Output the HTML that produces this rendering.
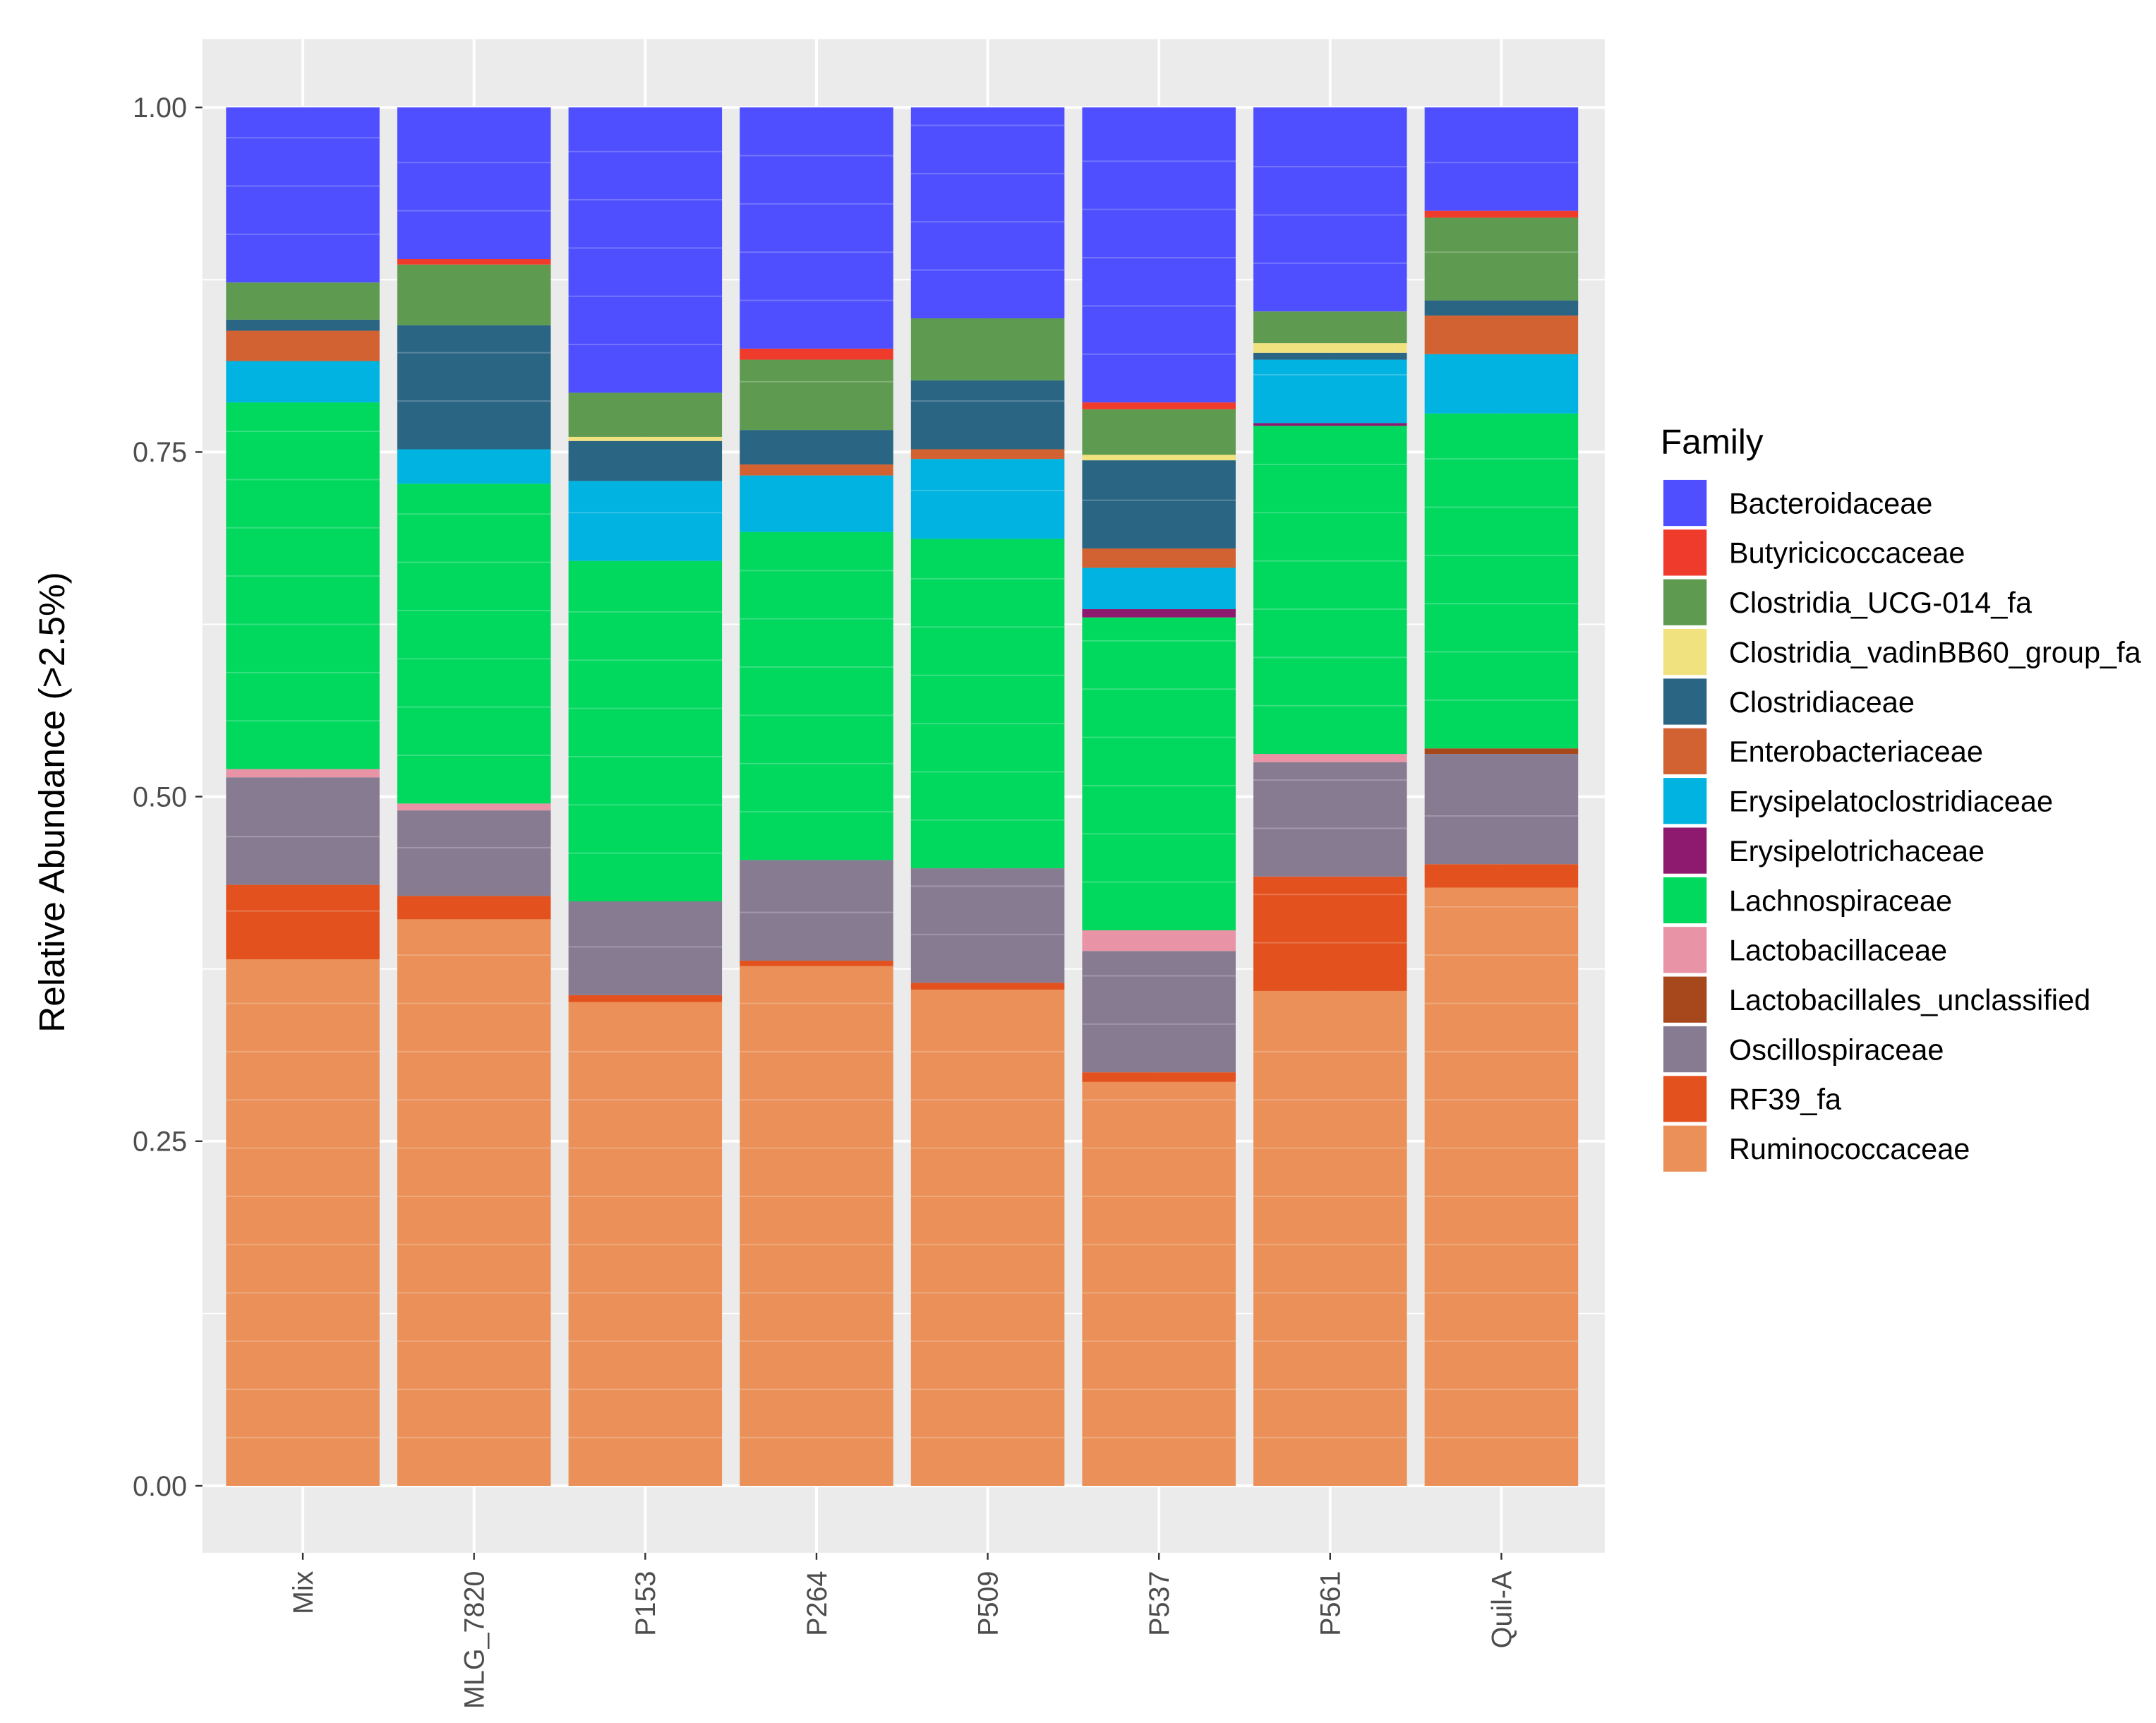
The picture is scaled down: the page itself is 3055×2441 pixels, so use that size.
<!DOCTYPE html>
<html><head><meta charset="utf-8"><style>
html,body{margin:0;padding:0;background:#fff}
svg{display:block}
text{font-family:"Liberation Sans",sans-serif}
</style></head><body>
<svg id="chart" width="3055" height="2441" viewBox="0 0 1545 1235" preserveAspectRatio="none" xmlns="http://www.w3.org/2000/svg">
<rect x="145" y="28" width="1005" height="1085" fill="#ebebeb"/>
<g id="grid"></g><g id="bars"></g><g id="axes"></g><g id="legend"></g>
<text transform="translate(46,575) rotate(-90)" text-anchor="middle" font-size="26" fill="#000">Relative Abundance (&gt;2.5%)</text>
<text x="1190" y="325" font-size="25" fill="#000">Family</text>
</svg>
<script>
const samples=["Mix","MLG_7820","P153","P264","P509","P537","P561","Quil-A"];
const families=["Bacteroidaceae","Butyricicoccaceae","Clostridia_UCG-014_fa","Clostridia_vadinBB60_group_fa","Clostridiaceae","Enterobacteriaceae","Erysipelatoclostridiaceae","Erysipelotrichaceae","Lachnospiraceae","Lactobacillaceae","Lactobacillales_unclassified","Oscillospiraceae","RF39_fa","Ruminococcaceae"];
const colors=["#4f4fff","#ef3b2c","#5e9b51","#f0e27e","#2a6584","#d26232","#00b3e0","#8e1a6f","#00d85e","#e893a6","#a6471c","#877b91","#e2511e","#ea9058"];
const vMix=[0.127,0,0.027,0,0.008,0.022,0.030,0,0.266,0.006,0,0.078,0.054,0.382];
const vMLG=[0.110,0.004,0.044,0,0.090,0,0.025,0,0.232,0.005,0,0.062,0.017,0.411];
const vP153=[0.207,0,0.032,0.003,0.029,0,0.058,0,0.247,0,0,0.068,0.005,0.351];
const vP264=[0.175,0.008,0.051,0,0.025,0.008,0.041,0,0.238,0,0,0.073,0.004,0.377];
const vP509=[0.153,0,0.045,0,0.050,0.007,0.058,0,0.239,0,0,0.083,0.005,0.360];
const vP537=[0.214,0.005,0.033,0.004,0.064,0.014,0.030,0.006,0.227,0.015,0,0.088,0.007,0.293];
const vP561=[0.148,0,0.023,0.007,0.005,0,0.046,0.002,0.238,0.006,0,0.083,0.083,0.359];
const vQuil=[0.075,0.005,0.060,0,0.011,0.028,0.043,0,0.243,0,0.004,0.080,0.017,0.434];
const values=[vMix,vMLG,vP153,vP264,vP509,vP537,vP561,vQuil];
const yTicks=[0,0.25,0.5,0.75,1.0];
const yTickLabels=["0.00","0.25","0.50","0.75","1.00"];
const NS="http://www.w3.org/2000/svg";
const y0=1065,y1=77,xL=145,xR=1150;
const yS=v=>y0-(y0-y1)*v;
const x0=217;
const xS=i=>x0+i*122.7;
const bw=110;
function mk(tag,attrs,parent){const e=document.createElementNS(NS,tag);for(const k in attrs)e.setAttribute(k,attrs[k]);parent.appendChild(e);return e;}
const grid=document.getElementById('grid'),bars=document.getElementById('bars'),axes=document.getElementById('axes'),legend=document.getElementById('legend');
for(let t=0;t<yTicks.length;t++){
 const g=mk('line',{x1:xL,x2:xR,y1:yS(yTicks[t]),y2:yS(yTicks[t]),stroke:'#fff','stroke-width':2},grid);
 
 
 if(t<yTicks.length-1){const m=(yTicks[t]+yTicks[t+1])/2;
  const mg=mk('line',{x1:xL,x2:xR,y1:yS(m),y2:yS(m),stroke:'#fff','stroke-width':1},grid);
  
  }
 const tk=mk('line',{x1:140,x2:145,y1:yS(yTicks[t]),y2:yS(yTicks[t]),stroke:'#333','stroke-width':1.2},axes);
 
 
 const tl=mk('text',{x:134,y:yS(yTicks[t])+7,'text-anchor':'end','font-size':20,fill:'#4d4d4d'},axes);
 tl.textContent=yTickLabels[t];
 
 
}
samples.forEach((s,i)=>{
 const cx=xS(i);
 const vg=mk('line',{x1:cx,x2:cx,y1:28,y2:1113,stroke:'#fff','stroke-width':2},grid);
 
 
 let cum=0;
 for(let f=families.length-1;f>=0;f--){
  const v=values[i][f]; if(v<=0)continue;
  const r=mk('rect',{x:cx-bw/2,y:yS(cum+v),width:bw,height:yS(cum)-yS(cum+v),fill:colors[f]},bars);
  
  
  for(let k=0.035;k<v-0.01;k+=0.035){
   const l=mk('line',{x1:cx-bw/2,x2:cx+bw/2,y1:yS(cum+k),y2:yS(cum+k),stroke:'#fff','stroke-opacity':0.22,'stroke-width':1},bars);
   
   
  }
  cum+=v;
 }
 const tk=mk('line',{x1:cx,x2:cx,y1:1113,y2:1118,stroke:'#333','stroke-width':1.2},axes);
 
 
 const tl=mk('text',{transform:`translate(${cx+7},1126) rotate(-90)`,'text-anchor':'end','font-size':20,fill:'#4d4d4d'},axes);
 tl.textContent=s;
 
 
});
families.forEach((f,i)=>{
 const y=344+i*35.6;
 const k=mk('rect',{x:1192,y:y,width:31,height:33,fill:colors[i]},legend);
 
 
 const t=mk('text',{x:1239,y:y+24,'font-size':21,fill:'#000'},legend);
 t.textContent=f;
 
 
});
</script>
</body></html>
